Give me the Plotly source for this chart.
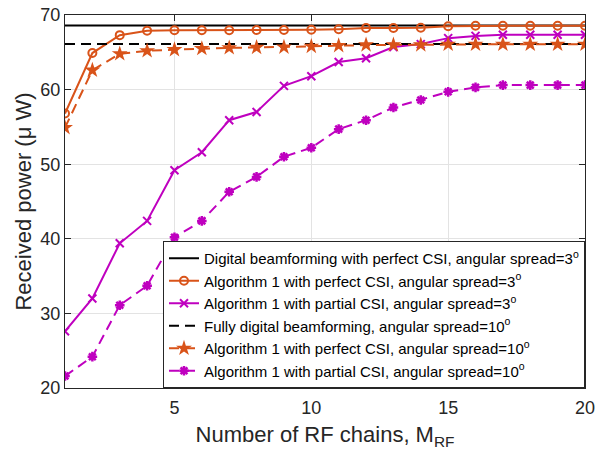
import plotly.graph_objects as go

M_RF = list(range(1, 21))

digital_3 = 68.6
digital_10 = 66.1

alg1_perfect_3 = [56.8, 64.9, 67.3, 67.9, 67.95, 67.95, 67.95, 67.98, 68.0, 68.03,
                  68.1, 68.25, 68.25, 68.3, 68.5, 68.55, 68.57, 68.57, 68.57, 68.57]
alg1_partial_3 = [27.6, 32.0, 39.4, 42.4, 49.2, 51.6, 55.9, 57.0, 60.5, 61.8,
                  63.7, 64.2, 65.7, 66.1, 66.9, 67.2, 67.35, 67.35, 67.35, 67.35]
alg1_perfect_10 = [54.9, 62.6, 64.8, 65.2, 65.35, 65.5, 65.6, 65.65, 65.7, 65.8,
                   65.9, 66.0, 66.0, 66.0, 66.07, 66.07, 66.07, 66.07, 66.07, 66.07]
alg1_partial_10 = [21.6, 24.2, 31.1, 33.7, 40.2, 42.4, 46.3, 48.3, 51.0, 52.2,
                   54.7, 55.9, 57.6, 58.6, 59.7, 60.3, 60.6, 60.6, 60.6, 60.6]

x_ticks = [5, 10, 15, 20]
y_ticks = [20, 30, 40, 50, 60, 70]

ORANGE = "#D95319"
PURPLE = "#BF00BF"
FONT = "Liberation Sans, Arial, sans-serif"

fig = go.Figure()

fig.add_trace(go.Scatter(
    x=M_RF, y=[digital_3] * len(M_RF), mode="lines",
    line=dict(color="black", width=2),
    name="Digital beamforming with perfect CSI, angular spread=3<sup>o</sup>",
    legendgroup="a"))
fig.add_trace(go.Scatter(
    x=M_RF, y=alg1_perfect_3, mode="lines+markers",
    line=dict(color=ORANGE, width=2),
    marker=dict(symbol="circle-open", size=8, color=ORANGE, line=dict(width=2)),
    name="Algorithm 1 with perfect CSI, angular spread=3<sup>o</sup>",
    legendgroup="b"))
fig.add_trace(go.Scatter(
    x=M_RF, y=alg1_partial_3, mode="lines+markers",
    line=dict(color=PURPLE, width=2),
    marker=dict(symbol="x-thin-open", size=8, color=PURPLE, line=dict(width=2, color=PURPLE)),
    name="Algorithm 1 with partial CSI, angular spread=3<sup>o</sup>",
    legendgroup="c"))
fig.add_trace(go.Scatter(
    x=M_RF, y=[digital_10] * len(M_RF), mode="lines",
    line=dict(color="black", width=2, dash="10px,6px"),
    name="Fully digital beamforming, angular spread=10<sup>o</sup>",
    legendgroup="d"))
fig.add_trace(go.Scatter(
    x=M_RF, y=alg1_perfect_10, mode="lines+markers",
    line=dict(color=ORANGE, width=2, dash="10px,6px"),
    marker=dict(symbol="star", size=12, color=ORANGE, line=dict(width=0)),
    name="Algorithm 1 with perfect CSI, angular spread=10<sup>o</sup>",
    legendgroup="e"))
fig.add_trace(go.Scatter(
    x=M_RF, y=alg1_partial_10, mode="lines+markers",
    line=dict(color=PURPLE, width=2, dash="10px,6px"),
    marker=dict(symbol="asterisk-open", size=8, color=PURPLE, line=dict(width=2.5, color=PURPLE)),
    name="Algorithm 1 with partial CSI, angular spread=10<sup>o</sup>",
    legendgroup="f"))

axis_common = dict(
    showline=True, linecolor="#262626", linewidth=1, mirror="allticks",
    ticks="inside", ticklen=6, tickcolor="#262626",
    showgrid=True, gridcolor="#E3E3E3", gridwidth=1, zeroline=False,
    automargin=False, ticklabeloverflow="allow",
    tickfont=dict(family=FONT, size=18, color="#262626"),
)

fig.update_layout(
    width=595, height=457,
    margin=dict(l=65, r=10, t=15, b=69, autoexpand=False),
    paper_bgcolor="white", plot_bgcolor="white",
    font=dict(family=FONT, color="#262626"),
    xaxis=dict(range=[1, 20], tickvals=x_ticks, **axis_common,
               ticklabelstandoff=3,
               title=dict(text="Number of RF chains, M<sub>RF</sub>",
                          font=dict(family=FONT, size=22, color="#262626"), standoff=10)),
    yaxis=dict(range=[20, 70], tickvals=y_ticks, **axis_common,
               title=dict(text="Received power (\u03bc W)",
                          font=dict(family=FONT, size=22, color="#262626"), standoff=2)),
    legend=dict(
        x=1, xanchor="right", y=0, yanchor="bottom",
        bgcolor="white", bordercolor="#262626", borderwidth=1,
        font=dict(family=FONT, size=15, color="black"),
        tracegroupgap=0, traceorder="grouped",
        itemwidth=30,
    ),
    showlegend=True,
)

fig.write_html("out.html")
